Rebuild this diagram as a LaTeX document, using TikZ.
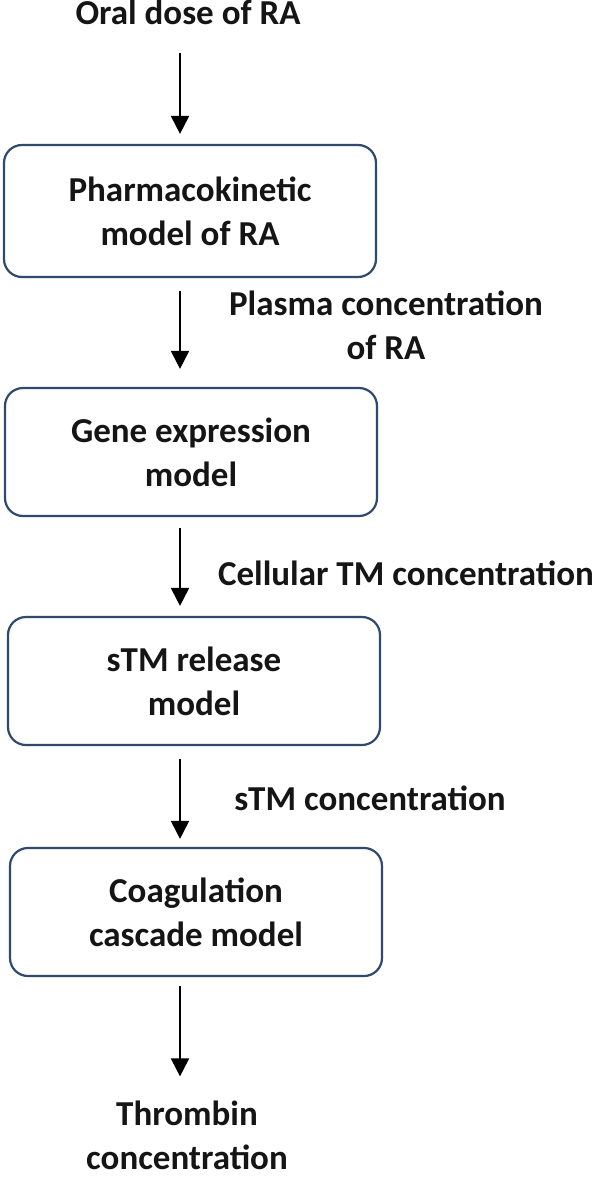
\documentclass[tikz,border=0pt]{standalone}
\usepackage{fontspec}
\setmainfont{Carlito}
\usetikzlibrary{arrows.meta}
\definecolor{boxline}{HTML}{2F4A6D}
\definecolor{txt}{HTML}{151515}
\tikzset{
  modelbox/.style={draw=boxline, line width=2.2pt, rounded corners=18pt, fill=white,
    minimum width=372pt, minimum height=128pt, align=center, inner sep=0pt,
    font=\fontsize{35}{44}\selectfont\bfseries, text=txt},
  flowlabel/.style={inner sep=0pt, align=center, font=\fontsize{35}{44}\selectfont\bfseries, text=txt},
  flowarrow/.style={line width=2pt, -{Triangle[width=18pt,length=18pt]}}
}
\begin{document}
\begin{tikzpicture}[x=1pt,y=-1pt]
\useasboundingbox (0,0) rectangle (596,1177);
\fill[white] (0,0) rectangle (596,1177);
\coordinate (ax) at (180,0);
% labels
\node[flowlabel, anchor=base] (oral) at (188,25) {Oral dose of RA};
\node[flowlabel, anchor=center] (plasma) at (386,325) {Plasma concentration\\of RA};
\node[flowlabel, anchor=base] (cell) at (406,585) {Cellular TM concentration};
\node[flowlabel, anchor=base] (stmc) at (370,810) {sTM concentration};
\node[flowlabel, anchor=center] (thr) at (187,1135) {Thrombin\\concentration};
% boxes
\node[modelbox, minimum height=132pt] (pk) at (190,211) {Pharmacokinetic\\model of RA};
\node[modelbox] (gene) at (191,452) {Gene expression\\model};
\node[modelbox] (stm) at (194,681) {sTM release\\model};
\node[modelbox] (coag) at (196,912) {Coagulation\\cascade model};
% arrows
\draw[flowarrow, shorten <=28pt, shorten >=10pt] (oral.south -| ax) -- (pk.north -| ax);
\draw[flowarrow, shorten <=13pt, shorten >=18pt] (pk.south -| ax) -- (gene.north -| ax);
\draw[flowarrow, shorten <=11pt, shorten >=10pt] (gene.south -| ax) -- (stm.north -| ax);
\draw[flowarrow, shorten <=13pt, shorten >=8pt] (stm.south -| ax) -- (coag.north -| ax);
\draw[flowarrow, shorten <=9pt, shorten >=24pt] (coag.south -| ax) -- (thr.north -| ax);
\end{tikzpicture}
\end{document}
